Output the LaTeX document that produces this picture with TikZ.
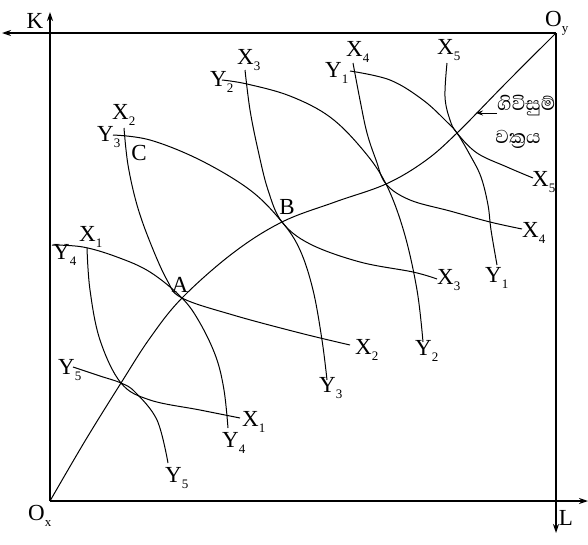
\documentclass[tikz,border=0pt]{standalone}
\usepackage{fontspec}
\setmainfont{Liberation Serif}
\newfontfamily\sinhalafont[Script=Sinhala]{Abhaya Libre}
\usetikzlibrary{arrows.meta}
\newcommand{\lb}[2]{#1\raisebox{-0.55ex}{\fontsize{13}{13}\selectfont #2}}
\tikzset{
  axis/.style={line width=1.3pt,-{Stealth[length=9pt,width=6pt]}},
  boxline/.style={line width=1.3pt},
  iso/.style={line width=1pt},
  lab/.style={font=\fontsize{23}{23}\selectfont, inner sep=0pt, anchor=west},
  pt/.style={font=\fontsize{23}{23}\selectfont, inner sep=0pt},
  sin/.style={font=\sinhalafont\fontsize{24}{24}\selectfont, inner sep=0pt},
}
\begin{document}
\begin{tikzpicture}[x=1pt,y=-1pt]
\useasboundingbox (0,0) rectangle (588,544);
% box and axes
\coordinate (Ox) at (50,501);
\coordinate (Oy) at (556,33);
\coordinate (TL) at (50,33);
\coordinate (BR) at (556,501);
\coordinate (Kend) at (50,12);
\coordinate (Lleft) at (2,33);
\coordinate (Ldown) at (556,533);
\coordinate (Lright) at (588,501);
\draw[boxline] (Ox) -- (TL);
\draw[axis] (TL) -- (Kend);
\draw[boxline] (TL) -- (Oy);
\draw[axis] (TL) -- (Lleft);
\draw[boxline] (Oy) -- (BR);
\draw[axis] (BR) -- (Ldown);
\draw[boxline] (Ox) -- (BR);
\draw[axis] (BR) -- (Lright);

% contract curve
\draw[iso] plot[smooth,tension=0.6] coordinates {(50,501) (85,441) (121,383) (150,338) (182,298) (233,253) (282,222) (335,202) (386,184) (425,161) (457,133) (506,83) (556,33)};

% X isoquants (convex to Ox)
\draw[iso] plot[smooth,tension=0.6] coordinates {(87,248) (90,290) (100,340) (121,383) (150,400) (200,410) (240,418)};
\draw[iso] plot[smooth,tension=0.6] coordinates {(124,128) (128,165) (137,205) (150,242) (167,280) (182,298) (233,315) (300,333) (350,345)};
\draw[iso] plot[smooth,tension=0.6] coordinates {(245,70) (250,110) (258,150) (268,190) (282,222) (310,244) (360,262) (413,272) (437,279)};
\draw[iso] plot[smooth,tension=0.6] coordinates {(353,63) (360,100) (367,133) (376,160) (386,184) (410,200) (450,211) (490,222) (522,229)};
\draw[iso] plot[smooth,tension=0.6] coordinates {(447,63) (445,97) (450,120) (457,133) (477,153) (507,167) (533,178)};

% Y isoquants (convex to Oy)
\draw[iso] plot[smooth,tension=0.6] coordinates {(73,367) (100,376) (121,383) (135,392) (157,420) (168,463)};
\draw[iso] plot[smooth,tension=0.6] coordinates {(52,245) (83,247) (117,257) (150,272) (182,298) (200,323) (216,357) (224,390) (228,428)};
\draw[iso] plot[smooth,tension=0.6] coordinates {(113,135) (150,140) (200,160) (250,190) (282,222) (300,250) (313,290) (322,340) (327,380)};
\draw[iso] plot[smooth,tension=0.6] coordinates {(222,80) (247,84) (290,96) (330,117) (363,150) (386,184) (404,232) (417,290) (423,342)};
\draw[iso] plot[smooth,tension=0.6] coordinates {(350,71) (390,80) (423,100) (447,122) (457,133) (470,155) (481,177) (488,205) (491,230) (497,265)};

% arrow to contract curve
\coordinate (ctip) at (476,113);
\node[sin, anchor=west] (cc1) at (497,106) {ගිවිසුම්};
\node[sin] (cc2) at (518,139) {වක්‍රය};
\draw[line width=1pt,-{Stealth[length=7pt,width=5pt]}] (cc1.west |- ctip) -- (ctip);

% axis labels
\node[pt] (K) at (35,21) {K};
\node[pt] (L) at (566,518) {L};
\node[lab] (OxL) at (28,516) {\lb{O}{x}};
\node[lab] (OyL) at (545,23) {\lb{O}{y}};

% point labels
\node[pt] (A) at (180,285) {A};
\node[pt] (B) at (287,207) {B};
\node[pt] (C) at (139,153) {C};

% top/left labels
\node[lab] (x5t) at (437,50) {\lb{X}{5}};
\node[lab] (x4t) at (346,52) {\lb{X}{4}};
\node[lab] (y1t) at (325,73) {\lb{Y}{1}};
\node[lab] (x3t) at (237,60) {\lb{X}{3}};
\node[lab] (y2t) at (210,82) {\lb{Y}{2}};
\node[lab] (x2t) at (112,115) {\lb{X}{2}};
\node[lab] (y3t) at (97,137) {\lb{Y}{3}};
\node[lab] (x1t) at (79,237) {\lb{X}{1}};
\node[lab] (y4t) at (53,255) {\lb{Y}{4}};
\node[lab] (y5t) at (58,370) {\lb{Y}{5}};

% right/bottom labels
\node[lab] (x5r) at (532,182) {\lb{X}{5}};
\node[lab] (x4r) at (522,233) {\lb{X}{4}};
\node[lab] (y1b) at (485,278) {\lb{Y}{1}};
\node[lab] (x3r) at (437,280) {\lb{X}{3}};
\node[lab] (y2b) at (415,351) {\lb{Y}{2}};
\node[lab] (x2r) at (355,350) {\lb{X}{2}};
\node[lab] (y3b) at (319,388) {\lb{Y}{3}};
\node[lab] (x1r) at (242,422) {\lb{X}{1}};
\node[lab] (y4b) at (222,443) {\lb{Y}{4}};
\node[lab] (y5b) at (165,478) {\lb{Y}{5}};
\end{tikzpicture}
\end{document}
